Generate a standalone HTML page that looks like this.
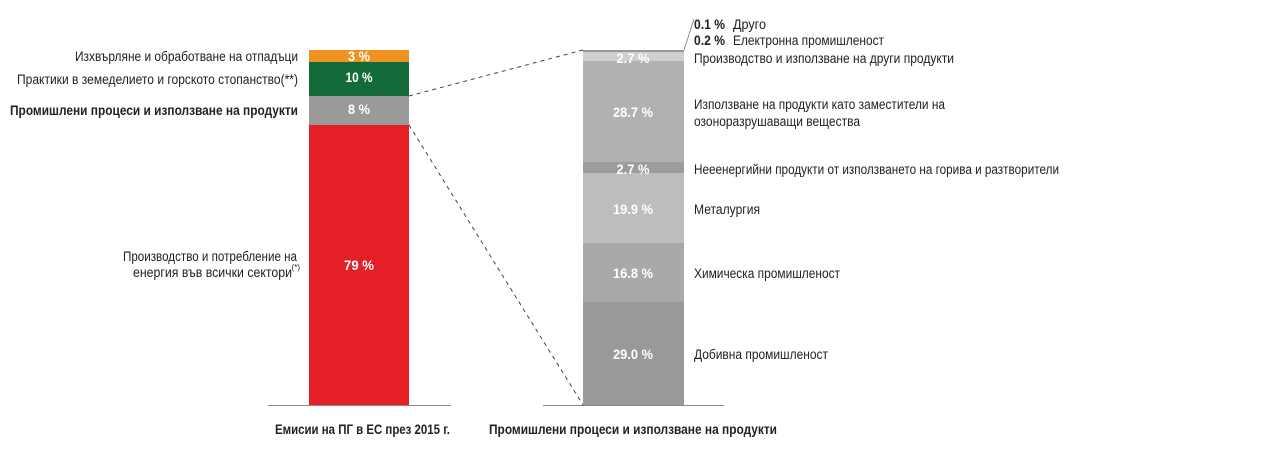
<!DOCTYPE html>
<html><head><meta charset="utf-8"><style>
html,body{margin:0;padding:0;background:#fff;}
svg{display:block;font-family:"Liberation Sans Narrow","Liberation Sans",sans-serif;}
</style></head><body>
<svg width="1283" height="471" viewBox="0 0 1283 471" xmlns="http://www.w3.org/2000/svg">
<g font-size="13.5" fill="#222" text-anchor="end">
<text x="298" y="61" textLength="223" lengthAdjust="spacingAndGlyphs">Изхвърляне и обработване на отпадъци</text>
<text x="298" y="84" textLength="281" lengthAdjust="spacingAndGlyphs">Практики в земеделието и горското стопанство(**)</text>
<text x="298" y="115" font-weight="bold" textLength="288" lengthAdjust="spacingAndGlyphs">Промишлени процеси и използване на продукти</text>
<text x="297" y="261" textLength="174" lengthAdjust="spacingAndGlyphs">Производство и потребление на</text>
<text x="292" y="277" textLength="159" lengthAdjust="spacingAndGlyphs">енергия във всички сектори</text>
<text x="300" y="270" font-size="8" text-anchor="end">(*)</text>
</g>
<rect x="309" y="50" width="100" height="12" fill="#ef9222"/>
<rect x="309" y="62" width="100" height="34" fill="#136b39"/>
<rect x="309" y="96" width="100" height="29" fill="#9a9a9a"/>
<rect x="309" y="125" width="100" height="280" fill="#e41f26"/>
<g fill="#fff" font-size="14" font-weight="bold" text-anchor="middle">
<text x="359" y="61" textLength="22" lengthAdjust="spacingAndGlyphs">3 %</text>
<text x="359" y="82" textLength="27" lengthAdjust="spacingAndGlyphs">10 %</text>
<text x="359" y="114" textLength="22" lengthAdjust="spacingAndGlyphs">8 %</text>
<text x="359" y="270" textLength="30" lengthAdjust="spacingAndGlyphs">79 %</text>
</g>
<line x1="268" y1="405.5" x2="451" y2="405.5" stroke="#888" stroke-width="1"/>
<line x1="543" y1="405.5" x2="724" y2="405.5" stroke="#888" stroke-width="1"/>
<line x1="409" y1="96" x2="583" y2="50" stroke="#444" stroke-dasharray="4,4"/>
<line x1="409" y1="125" x2="583" y2="405" stroke="#444" stroke-dasharray="4,4"/>
<rect x="583" y="50" width="101" height="2" fill="#999"/>
<rect x="583" y="52" width="101" height="9" fill="#cfcfcf"/>
<rect x="583" y="61" width="101" height="101" fill="#b1b1b1"/>
<rect x="583" y="162" width="101" height="11" fill="#9c9c9c"/>
<rect x="583" y="173" width="101" height="70" fill="#bdbdbd"/>
<rect x="583" y="243" width="101" height="59" fill="#a9a9a9"/>
<rect x="583" y="302" width="101" height="103" fill="#999999"/>
<g fill="#fff" font-size="14" font-weight="bold" text-anchor="middle">
<text x="633" y="63" textLength="33" lengthAdjust="spacingAndGlyphs">2.7 %</text>
<text x="633" y="117" textLength="40" lengthAdjust="spacingAndGlyphs">28.7 %</text>
<text x="633" y="174" textLength="33" lengthAdjust="spacingAndGlyphs">2.7 %</text>
<text x="633" y="214" textLength="40" lengthAdjust="spacingAndGlyphs">19.9 %</text>
<text x="633" y="278" textLength="40" lengthAdjust="spacingAndGlyphs">16.8 %</text>
<text x="633" y="359" textLength="40" lengthAdjust="spacingAndGlyphs">29.0 %</text>
</g>
<line x1="684" y1="50" x2="694" y2="19" stroke="#777" stroke-width="0.8"/>
<g font-size="13.5" fill="#222">
<text x="694" y="29" font-weight="bold" textLength="31" lengthAdjust="spacingAndGlyphs">0.1 %</text>
<text x="733" y="29" textLength="33" lengthAdjust="spacingAndGlyphs">Друго</text>
<text x="694" y="45" font-weight="bold" textLength="31" lengthAdjust="spacingAndGlyphs">0.2 %</text>
<text x="733" y="45" textLength="151" lengthAdjust="spacingAndGlyphs">Електронна промишленост</text>
<text x="694" y="63" textLength="260" lengthAdjust="spacingAndGlyphs">Производство и използване на други продукти</text>
<text x="694" y="109" textLength="251" lengthAdjust="spacingAndGlyphs">Използване на продукти като заместители на</text>
<text x="694" y="126" textLength="166" lengthAdjust="spacingAndGlyphs">озоноразрушаващи вещества</text>
<text x="694" y="174" textLength="365" lengthAdjust="spacingAndGlyphs">Нееенергийни продукти от използването на горива и разтворители</text>
<text x="694" y="214" textLength="66" lengthAdjust="spacingAndGlyphs">Металургия</text>
<text x="694" y="278" textLength="146" lengthAdjust="spacingAndGlyphs">Химическа промишленост</text>
<text x="694" y="359" textLength="134" lengthAdjust="spacingAndGlyphs">Добивна промишленост</text>
<text x="275" y="434" font-weight="bold" textLength="175" lengthAdjust="spacingAndGlyphs">Емисии на ПГ в ЕС през 2015 г.</text>
<text x="489" y="434" font-weight="bold" textLength="288" lengthAdjust="spacingAndGlyphs">Промишлени процеси и използване на продукти</text>
</g>
</svg>
</body></html>
